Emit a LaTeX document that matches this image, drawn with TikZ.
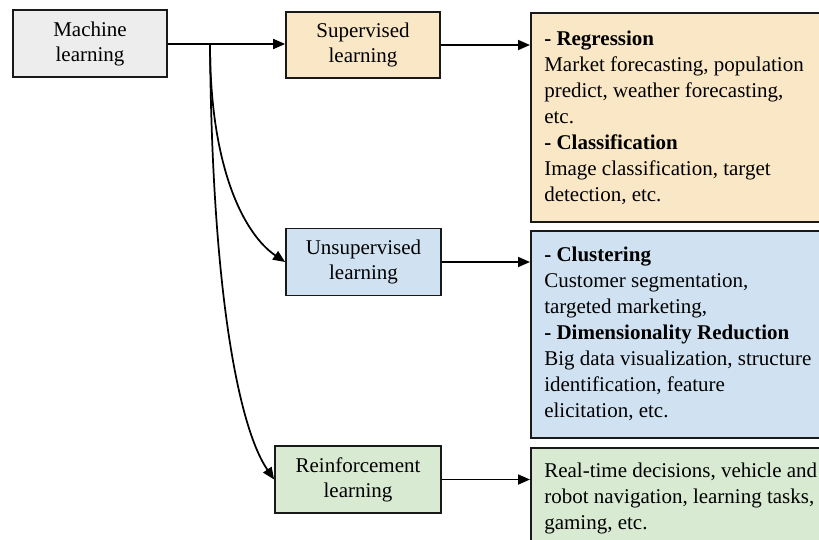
\documentclass[tikz,border=0pt]{standalone}
\usepackage{fontspec}
\setmainfont{LiberationSerif}[Extension=.ttf, UprightFont=*-Regular, BoldFont=*-Bold, ItalicFont=*-Italic, BoldItalicFont=*-BoldItalic]
\usetikzlibrary{arrows.meta}
\definecolor{mlgray}{RGB}{237,237,237}
\definecolor{supy}{RGB}{250,231,197}
\definecolor{unsb}{RGB}{208,226,242}
\definecolor{reig}{RGB}{216,234,210}
\definecolor{edge}{RGB}{25,25,25}
\tikzset{
  lbox/.style={draw=edge, line width=1.3pt, align=center, inner sep=0pt,
    font=\fontsize{15.75}{18.75}\selectfont},
  dbox/.style={draw=edge, line width=1.3pt, anchor=north west, inner sep=0pt,
    minimum width=232pt},
  dtext/.style={anchor=north west, align=left, inner sep=0pt,
    font=\fontsize{15.75}{19.5}\selectfont},
  conn/.style={line width=1.3pt, -{Triangle[length=9pt,width=7.5pt]}}
}
\begin{document}
\begin{tikzpicture}[x=0.75pt,y=-0.75pt]
\clip (0,0) rectangle (819,540);
\fill[white] (0,0) rectangle (819,540);
% left column
\node[lbox, fill=mlgray, minimum width=115.5pt, minimum height=50.25pt] (ml) at (90,43.5) {Machine\\learning};
\node[lbox, fill=supy, minimum width=115.5pt, minimum height=49.5pt] (sup) at (363,45) {Supervised\\learning};
\node[lbox, fill=unsb, minimum width=116.25pt, minimum height=50.25pt] (uns) at (363.5,262) {Unsupervised\\learning};
\node[lbox, fill=reig, minimum width=124.5pt, minimum height=50.25pt] (rei) at (358,479.5) {Reinforcement\\learning};
% detail boxes
\node[dbox, fill=supy, minimum height=156.75pt] (d1) at (530,12) {};
\node[dbox, fill=unsb, minimum height=155.25pt] (d2) at (530,230) {};
\node[dbox, fill=reig, minimum height=90pt] (d3) at (530,447) {};
\node[dtext] (t1) at (544,30.5) {\textbf{- Regression}\\Market forecasting, population\\predict, weather forecasting,\\etc.\\\textbf{- Classification}\\Image classification, target\\detection, etc.};
\node[dtext] (t2) at (544,246.5) {\textbf{- Clustering}\\Customer segmentation,\\targeted marketing,\\\textbf{- Dimensionality Reduction}\\Big data visualization, structure\\identification, feature\\elicitation, etc.};
\node[dtext] (t3) at (544,462.5) {Real-time decisions, vehicle and\\robot navigation, learning tasks,\\gaming, etc.};
% connectors
\coordinate (br) at (210,44);
\draw[conn] (ml.east |- br) -- (br -| sup.west);
\draw[conn] (br) .. controls (210,170) and (245,235) .. (uns.west);
\draw[conn] (br) .. controls (212,300) and (240,430) .. (rei.west);
\draw[conn] (sup.east) -- (sup.east -| d1.west);
\draw[conn] (uns.east) -- (uns.east -| d2.west);
\draw[conn] (rei.east) -- (rei.east -| d3.west);
\end{tikzpicture}
\end{document}
